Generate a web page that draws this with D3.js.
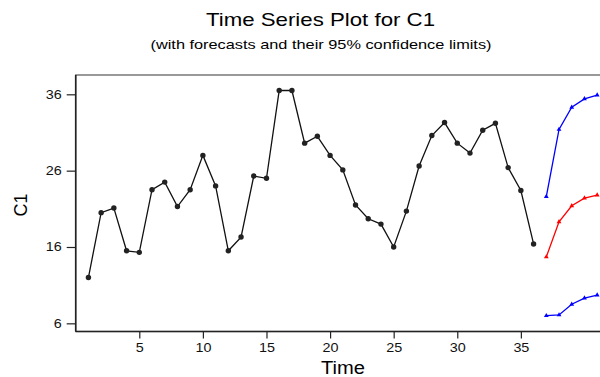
<!DOCTYPE html>
<html>
<head>
<meta charset="utf-8">
<script src="https://cdn.jsdelivr.net/npm/d3@7"></script>
<style>
  body { margin: 0; background: #fff; }
  svg { display: block; font-family: "Liberation Sans", Arial, sans-serif; }
</style>
</head>
<body>
<svg id="chart" width="600" height="377"></svg>
<script>
// observed series C1 (t = 1..36)
var timeIdx = d3.range(1, 37);
var c1 = [12.0, 20.5, 21.1, 15.5, 15.3, 23.5, 24.5, 21.3, 23.5, 28.0,
          24.0, 15.5, 17.3, 25.3, 25.0, 36.5, 36.5, 29.6, 30.5, 28.0,
          26.1, 21.5, 19.7, 19.0, 16.0, 20.7, 26.6, 30.6, 32.3, 29.6,
          28.3, 31.3, 32.2, 26.4, 23.4, 16.4];

// forecasts (t = 37..41)
var fcIdx = [37, 38, 39, 40, 41];
var forecast = [14.7, 19.3, 21.4, 22.4, 22.8];
var upper = [22.6, 31.4, 34.3, 35.4, 35.9];
var lower = [7.0, 7.1, 8.5, 9.3, 9.7];

var xTicks = [5, 10, 15, 20, 25, 30, 35];
var yTicks = [6, 16, 26, 36];

var svg = d3.select("#chart");

var x = d3.scaleLinear().domain([0, 42]).range([75.7, 609.9]);
var y = d3.scaleLinear().domain([4.93, 38.53]).range([331.5, 75]);

// frame
svg.append("rect")
  .attr("x", x(0)).attr("y", y(38.53))
  .attr("width", x(42) - x(0)).attr("height", y(4.93) - y(38.53))
  .attr("fill", "none").attr("stroke", "#555").attr("stroke-width", 1.2);
svg.append("line")
  .attr("x1", x(0)).attr("x2", x(0)).attr("y1", y(38.53)).attr("y2", y(4.93))
  .attr("stroke", "#222").attr("stroke-width", 1.6);
svg.append("line")
  .attr("x1", x(0)).attr("x2", 600).attr("y1", y(4.93)).attr("y2", y(4.93))
  .attr("stroke", "#222").attr("stroke-width", 1.6);

// axes
var xAxis = d3.axisBottom(x).tickValues(xTicks).tickSize(7).tickPadding(5);
svg.append("g").attr("id", "xAxisG")
  .attr("transform", "translate(0," + y(4.93) + ")").call(xAxis);
var yAxis = d3.axisLeft(y).tickValues(yTicks).tickSize(9).tickPadding(4);
svg.append("g").attr("id", "yAxisG")
  .attr("transform", "translate(" + x(0) + ",0)").call(yAxis);

svg.selectAll(".domain").remove();
svg.selectAll(".tick line").attr("stroke", "#222").attr("stroke-width", 1.2);
svg.selectAll(".tick text").attr("font-size", "12.5px").attr("fill", "#111")
  .attr("font-family", "Liberation Sans, Arial, sans-serif");
// the reference glyphs are a bit wider than tall
svg.selectAll("#xAxisG .tick text").attr("transform", "scale(1.15,1)");
svg.selectAll("#yAxisG .tick text").attr("x", -14 / 1.15).attr("transform", "scale(1.15,1)");

// series line
var line = d3.line()
  .x(function(d) { return x(d[0]); })
  .y(function(d) { return y(d[1]); });

var obs = d3.zip(timeIdx, c1);
svg.append("path").datum(obs)
  .attr("d", line).attr("fill", "none")
  .attr("stroke", "#111").attr("stroke-width", 1.3);
svg.selectAll("circle.obs").data(obs).enter()
  .append("circle").attr("class", "obs")
  .attr("cx", function(d) { return x(d[0]); })
  .attr("cy", function(d) { return y(d[1]); })
  .attr("r", 2.7).attr("fill", "#222");

// forecast lines
var tri = d3.symbol().type(d3.symbolTriangle).size(10);
[[upper, "blue"], [forecast, "red"], [lower, "blue"]].forEach(function(s) {
  var pts = d3.zip(fcIdx, s[0]);
  svg.append("path").datum(pts)
    .attr("d", line).attr("fill", "none")
    .attr("stroke", s[1]).attr("stroke-width", 1.3);
  svg.append("g").selectAll("path").data(pts).enter()
    .append("path").attr("d", tri)
    .attr("transform", function(d) { return "translate(" + x(d[0]) + "," + y(d[1]) + ")"; })
    .attr("fill", s[1]);
});

// titles
svg.append("text").attr("x", 320.5).attr("y", 26)
  .attr("text-anchor", "middle").attr("font-size", "19px").attr("fill", "#000")
  .attr("textLength", 229).attr("lengthAdjust", "spacingAndGlyphs")
  .text("Time Series Plot for C1");
svg.append("text").attr("x", 321).attr("y", 48.5)
  .attr("text-anchor", "middle").attr("font-size", "13px").attr("fill", "#000")
  .attr("textLength", 341).attr("lengthAdjust", "spacingAndGlyphs")
  .text("(with forecasts and their 95% confidence limits)");
svg.append("text").attr("x", 343).attr("y", 373.5)
  .attr("text-anchor", "middle").attr("font-size", "17.5px").attr("fill", "#000")
  .attr("textLength", 44).attr("lengthAdjust", "spacingAndGlyphs")
  .text("Time");
svg.append("text")
  .attr("transform", "translate(27,205) rotate(-90)")
  .attr("text-anchor", "middle").attr("font-size", "18px").attr("fill", "#000")
  .text("C1");
</script>
</body>
</html>
